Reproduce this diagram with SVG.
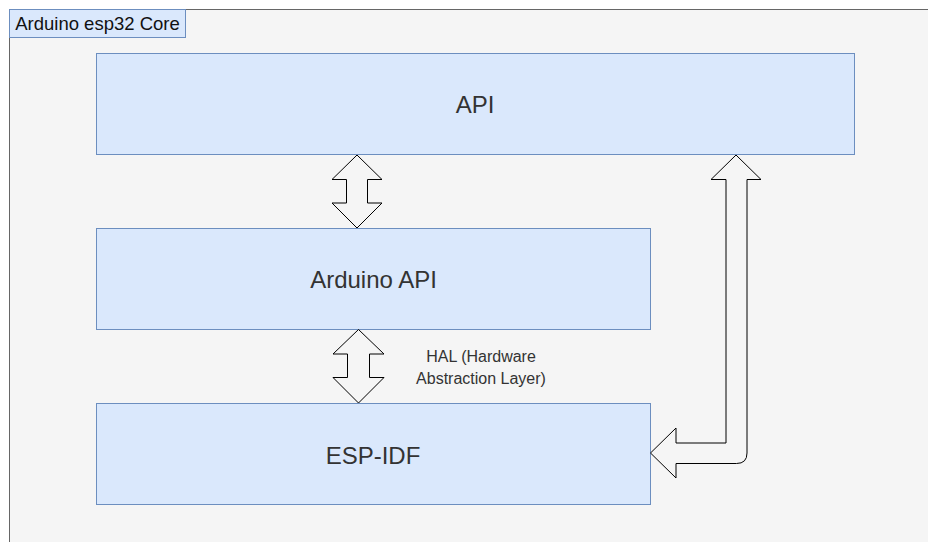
<svg xmlns="http://www.w3.org/2000/svg" width="928" height="542" viewBox="0 0 928 542">
<style>
.box{fill:#dae8fc;stroke:#6c8ebf;stroke-width:1}
.arr{fill:#f5f5f5;stroke:#000;stroke-width:1;stroke-linejoin:miter}
.t{font-family:"Liberation Sans",Arial,sans-serif;fill:#333;text-anchor:middle;dominant-baseline:central}
</style>
<rect x="0" y="0" width="928" height="542" fill="#fff"/>
<g id="container">
<rect x="9.5" y="9.5" width="930" height="545" fill="#f5f5f5" stroke="#666"/>
<rect class="box" x="9.5" y="9.5" width="176" height="28"/>
<text class="t" x="97.5" y="23.5" font-size="18.5" style="fill:#111">Arduino esp32 Core</text>
</g>
<g id="api">
<rect class="box" x="96.5" y="53.5" width="758" height="101"/>
<text class="t" x="475" y="104" font-size="24">API</text>
</g>
<g id="arduino-api">
<rect class="box" x="96.5" y="228.5" width="554" height="101"/>
<text class="t" x="373.5" y="279" font-size="24">Arduino API</text>
</g>
<g id="esp-idf">
<rect class="box" x="96.5" y="403.5" width="554" height="101"/>
<text class="t" x="373" y="455" font-size="24">ESP-IDF</text>
</g>
<g id="connectors">
<path class="arr" d="M357,155 L382,179.5 L367.5,179.5 L367.5,203 L382,203 L357,228 L332,203 L346.5,203 L346.5,179.5 L332,179.5 Z"/>
<path class="arr" d="M358.5,329.5 L384,354 L369.5,354 L369.5,377.5 L384,377.5 L358.5,403 L333,377.5 L347.5,377.5 L347.5,354 L333,354 Z"/>
<path class="arr" d="M736,155 L761,179.5 L747,179.5 L747,453 Q747,463.5 736.5,463.5 L676,463.5 L676,478 L650.5,453 L676,428 L676,443 L726,443 L726,179.5 L711,179.5 Z"/>
<text class="t" x="481" y="356" font-size="16">HAL (Hardware</text>
<text class="t" x="481" y="378" font-size="16">Abstraction Layer)</text>
</g>
</svg>
